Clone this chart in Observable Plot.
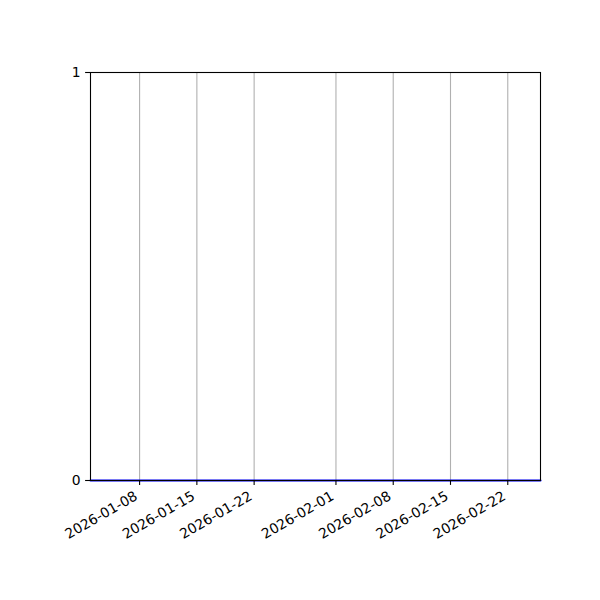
<!DOCTYPE html>
<html>
<head>
<meta charset="utf-8">
<script src="https://cdn.jsdelivr.net/npm/d3@7"></script>
<script src="https://cdn.jsdelivr.net/npm/@observablehq/plot@0.6"></script>
<style>
  html, body { margin: 0; padding: 0; background: #fff; }
  #chart svg { display: block; }
</style>
</head>
<body>
<div id="chart"></div>
<script>
const dates = ["2026-01-02", "2026-02-26"];
const values = [0, 0];
const xTickLabels = ["2026-01-08", "2026-01-15", "2026-01-22", "2026-02-01", "2026-02-08", "2026-02-15", "2026-02-22"];
const yTicks = [0, 1];

const parse = d3.utcParse("%Y-%m-%d");
const data = dates.map((d, i) => ({date: parse(d), value: values[i]}));
const xTicks = xTickLabels.map(parse);
const fmt = d3.utcFormat("%Y-%m-%d");

const fs = 13.9;
const chart = Plot.plot({
  width: 600,
  height: 600,
  marginLeft: 90,
  marginRight: 60,
  marginTop: 72,
  marginBottom: 120,
  style: {fontFamily: "'DejaVu Sans', sans-serif", fontSize: fs + "px", background: "white", color: "black"},
  x: {type: "utc", domain: [parse(dates[0]), parse(dates[dates.length - 1])]},
  y: {domain: [0, 1]},
  marks: [
    Plot.gridX(xTicks, {stroke: "#b0b0b0", strokeOpacity: 1, strokeWidth: 1.1}),
    Plot.lineY(data, {x: "date", y: "value", stroke: "#0000ff", strokeWidth: 2.1}),
    Plot.frame({stroke: "black", strokeWidth: 1.1}),
    Plot.axisX({ticks: xTicks, text: null, tickSize: 4.9, strokeWidth: 1.1, label: null}),
    Plot.text(xTicks, {
      x: d => d,
      frameAnchor: "bottom",
      text: d => fmt(d),
      rotate: -30,
      textAnchor: "end",
      lineAnchor: "top",
      dx: -6,
      dy: 9.8,
      fontSize: fs,
      fill: "black"
    }),
    Plot.axisY({ticks: yTicks, tickSize: 4.9, tickPadding: 4.9, strokeWidth: 1.1, tickFormat: d => String(d), label: null, fontSize: fs})
  ]
});
document.getElementById("chart").append(chart);
</script>
</body>
</html>
